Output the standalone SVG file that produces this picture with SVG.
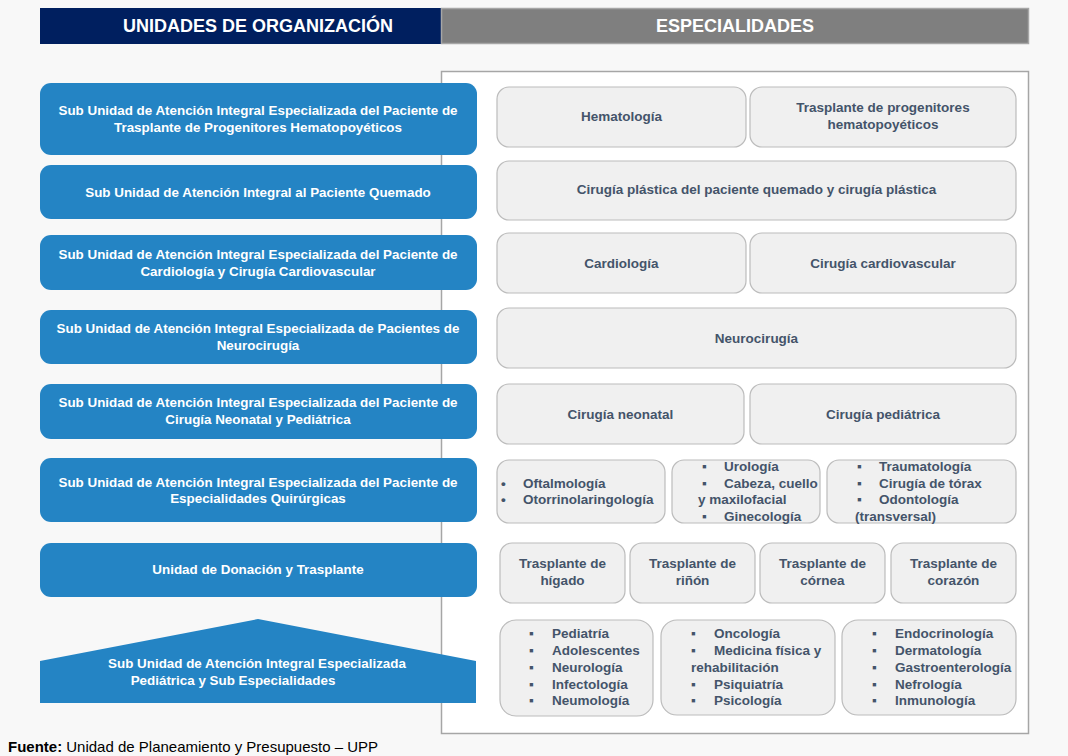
<svg xmlns="http://www.w3.org/2000/svg" width="1068" height="756" viewBox="0 0 1068 756">
<style>
.bg{fill:#f8f8f8}
.unit{fill:#2484c4}
.ut{font-family:"Liberation Sans",Arial,sans-serif;font-weight:bold;font-size:13.4px;fill:#ffffff;text-anchor:middle}
.spec{fill:#f0f0f0;stroke:#bcbcbc;stroke-width:1.2}
.st{font-family:"Liberation Sans",Arial,sans-serif;font-weight:bold;font-size:13.5px;fill:#44546a;text-anchor:middle}
.sl{font-family:"Liberation Sans","DejaVu Sans",Arial,sans-serif;font-weight:bold;font-size:13.5px;fill:#44546a}
.hd{font-family:"Liberation Sans",Arial,sans-serif;font-weight:bold;font-size:18px;fill:#ffffff;text-anchor:middle}
</style>
<rect class="bg" x="0" y="0" width="1068" height="756"/>

<g id="header">
  <rect x="40" y="8" width="401" height="36" fill="#001f5f"/>
  <text class="hd" x="258" y="32">UNIDADES DE ORGANIZACIÓN</text>
  <rect x="441.5" y="8.5" width="587" height="35" fill="#7f7f7f" stroke="#a6a6a6" stroke-width="1.5"/>
  <text class="hd" x="735" y="32">ESPECIALIDADES</text>
</g>

<g id="panel">
  <rect x="441.5" y="71.5" width="587" height="662" fill="#ffffff" stroke="#a6a6a6" stroke-width="1.5"/>
</g>

<g id="connectors"></g>

<g id="unit1">
  <rect class="unit" x="40" y="83" width="437" height="72" rx="11"/>
  <text class="ut" x="258" y="115">Sub Unidad de Atención Integral Especializada del Paciente de</text>
  <text class="ut" x="258" y="132">Trasplante de Progenitores Hematopoyéticos</text>
</g>
<g id="unit2">
  <rect class="unit" x="40" y="165" width="437" height="54" rx="11"/>
  <text class="ut" x="258" y="197">Sub Unidad de Atención Integral al Paciente Quemado</text>
</g>
<g id="unit3">
  <rect class="unit" x="40" y="235" width="437" height="55" rx="11"/>
  <text class="ut" x="258" y="259">Sub Unidad de Atención Integral Especializada del Paciente de</text>
  <text class="ut" x="258" y="276">Cardiología y Cirugía Cardiovascular</text>
</g>
<g id="unit4">
  <rect class="unit" x="40" y="310" width="437" height="54" rx="11"/>
  <text class="ut" x="258" y="333">Sub Unidad de Atención Integral Especializada de Pacientes de</text>
  <text class="ut" x="258" y="350">Neurocirugía</text>
</g>
<g id="unit5">
  <rect class="unit" x="40" y="384" width="437" height="55" rx="11"/>
  <text class="ut" x="258" y="407">Sub Unidad de Atención Integral Especializada del Paciente de</text>
  <text class="ut" x="258" y="424">Cirugía Neonatal y Pediátrica</text>
</g>
<g id="unit6">
  <rect class="unit" x="40" y="458" width="437" height="64" rx="11"/>
  <text class="ut" x="258" y="487">Sub Unidad de Atención Integral Especializada del Paciente de</text>
  <text class="ut" x="258" y="503">Especialidades Quirúrgicas</text>
</g>
<g id="unit7">
  <rect class="unit" x="40" y="543" width="437" height="54" rx="11"/>
  <text class="ut" x="258" y="574">Unidad de Donación y Trasplante</text>
</g>
<g id="unit8">
  <polygon class="unit" points="40,661 258,619 476,661 476,703 40,703"/>
  <text class="ut" x="257" y="668">Sub Unidad de Atención Integral Especializada</text>
  <text class="ut" x="233" y="685">Pediátrica y Sub Especialidades</text>
</g>

<g id="spec-hematologia">
  <rect class="spec" x="497" y="87" width="249" height="60" rx="12"/>
  <text class="st" x="621.5" y="121">Hematología</text>
</g>
<g id="spec-trasplante-progenitores">
  <rect class="spec" x="750" y="87" width="266" height="60" rx="12"/>
  <text class="st" x="883" y="112">Trasplante de progenitores</text>
  <text class="st" x="883" y="129">hematopoyéticos</text>
</g>
<g id="spec-quemado">
  <rect class="spec" x="497" y="161" width="519" height="59" rx="12"/>
  <text class="st" x="756.5" y="194">Cirugía plástica del paciente quemado y cirugía plástica</text>
</g>
<g id="spec-cardiologia">
  <rect class="spec" x="497" y="233" width="249" height="60" rx="12"/>
  <text class="st" x="621.5" y="268">Cardiología</text>
</g>
<g id="spec-cardiovascular">
  <rect class="spec" x="750" y="233" width="266" height="60" rx="12"/>
  <text class="st" x="883" y="268">Cirugía cardiovascular</text>
</g>
<g id="spec-neurocirugia">
  <rect class="spec" x="497" y="308" width="519" height="60" rx="12"/>
  <text class="st" x="756.5" y="343">Neurocirugía</text>
</g>
<g id="spec-neonatal">
  <rect class="spec" x="497" y="384" width="247" height="60" rx="12"/>
  <text class="st" x="620.5" y="419">Cirugía neonatal</text>
</g>
<g id="spec-pediatrica">
  <rect class="spec" x="750" y="384" width="266" height="60" rx="12"/>
  <text class="st" x="883" y="419">Cirugía pediátrica</text>
</g>

<g id="spec-quir-a">
  <rect class="spec" x="497" y="460" width="168" height="63" rx="12"/>
  <text class="sl" x="501" y="488">•</text>
  <text class="sl" x="523" y="488">Oftalmología</text>
  <text class="sl" x="501" y="504">•</text>
  <text class="sl" x="523" y="504">Otorrinolaringología</text>
</g>
<g id="spec-quir-b">
  <rect class="spec" x="672" y="460" width="148" height="63" rx="12"/>
  <text class="sl" x="702" y="471">▪</text>
  <text class="sl" x="724" y="471">Urología</text>
  <text class="sl" x="702" y="488">▪</text>
  <text class="sl" x="724" y="488">Cabeza, cuello</text>
  <text class="sl" x="698" y="504">y maxilofacial</text>
  <text class="sl" x="702" y="521">▪</text>
  <text class="sl" x="724" y="521">Ginecología</text>
</g>
<g id="spec-quir-c">
  <rect class="spec" x="827" y="460" width="189" height="63" rx="12"/>
  <text class="sl" x="857" y="471">▪</text>
  <text class="sl" x="879" y="471">Traumatología</text>
  <text class="sl" x="857" y="488">▪</text>
  <text class="sl" x="879" y="488">Cirugía de tórax</text>
  <text class="sl" x="857" y="504">▪</text>
  <text class="sl" x="879" y="504">Odontología</text>
  <text class="sl" x="855" y="521">(transversal)</text>
</g>

<g id="spec-higado">
  <rect class="spec" x="500" y="543" width="125" height="60" rx="12"/>
  <text class="st" x="562.5" y="568">Trasplante de</text>
  <text class="st" x="562.5" y="585">hígado</text>
</g>
<g id="spec-rinon">
  <rect class="spec" x="630" y="543" width="125" height="60" rx="12"/>
  <text class="st" x="692.5" y="568">Trasplante de</text>
  <text class="st" x="692.5" y="585">riñón</text>
</g>
<g id="spec-cornea">
  <rect class="spec" x="760" y="543" width="125" height="60" rx="12"/>
  <text class="st" x="822.5" y="568">Trasplante de</text>
  <text class="st" x="822.5" y="585">córnea</text>
</g>
<g id="spec-corazon">
  <rect class="spec" x="891" y="543" width="125" height="60" rx="12"/>
  <text class="st" x="953.5" y="568">Trasplante de</text>
  <text class="st" x="953.5" y="585">corazón</text>
</g>

<g id="spec-ped-a">
  <rect class="spec" x="500" y="620" width="153" height="96" rx="16"/>
  <text class="sl" x="529" y="638">▪</text><text class="sl" x="552" y="638">Pediatría</text>
  <text class="sl" x="529" y="655">▪</text><text class="sl" x="552" y="655">Adolescentes</text>
  <text class="sl" x="529" y="672">▪</text><text class="sl" x="552" y="672">Neurología</text>
  <text class="sl" x="529" y="689">▪</text><text class="sl" x="552" y="689">Infectología</text>
  <text class="sl" x="529" y="705">▪</text><text class="sl" x="552" y="705">Neumología</text>
</g>
<g id="spec-ped-b">
  <rect class="spec" x="661" y="620" width="174" height="95" rx="16"/>
  <text class="sl" x="691" y="638">▪</text><text class="sl" x="714" y="638">Oncología</text>
  <text class="sl" x="691" y="655">▪</text><text class="sl" x="714" y="655">Medicina física y</text>
  <text class="sl" x="691" y="672">rehabilitación</text>
  <text class="sl" x="691" y="689">▪</text><text class="sl" x="714" y="689">Psiquiatría</text>
  <text class="sl" x="691" y="705">▪</text><text class="sl" x="714" y="705">Psicología</text>
</g>
<g id="spec-ped-c">
  <rect class="spec" x="842" y="620" width="174" height="95" rx="16"/>
  <text class="sl" x="872" y="638">▪</text><text class="sl" x="895" y="638">Endocrinología</text>
  <text class="sl" x="872" y="655">▪</text><text class="sl" x="895" y="655">Dermatología</text>
  <text class="sl" x="872" y="672">▪</text><text class="sl" x="895" y="672">Gastroenterología</text>
  <text class="sl" x="872" y="689">▪</text><text class="sl" x="895" y="689">Nefrología</text>
  <text class="sl" x="872" y="705">▪</text><text class="sl" x="895" y="705">Inmunología</text>
</g>

<g id="footer">
  <text x="8" y="752" font-family="'Liberation Sans',Arial,sans-serif" font-size="14.5" fill="#000000" textLength="370" lengthAdjust="spacingAndGlyphs"><tspan font-weight="bold">Fuente:</tspan> Unidad de Planeamiento y Presupuesto – UPP</text>
</g>
</svg>
